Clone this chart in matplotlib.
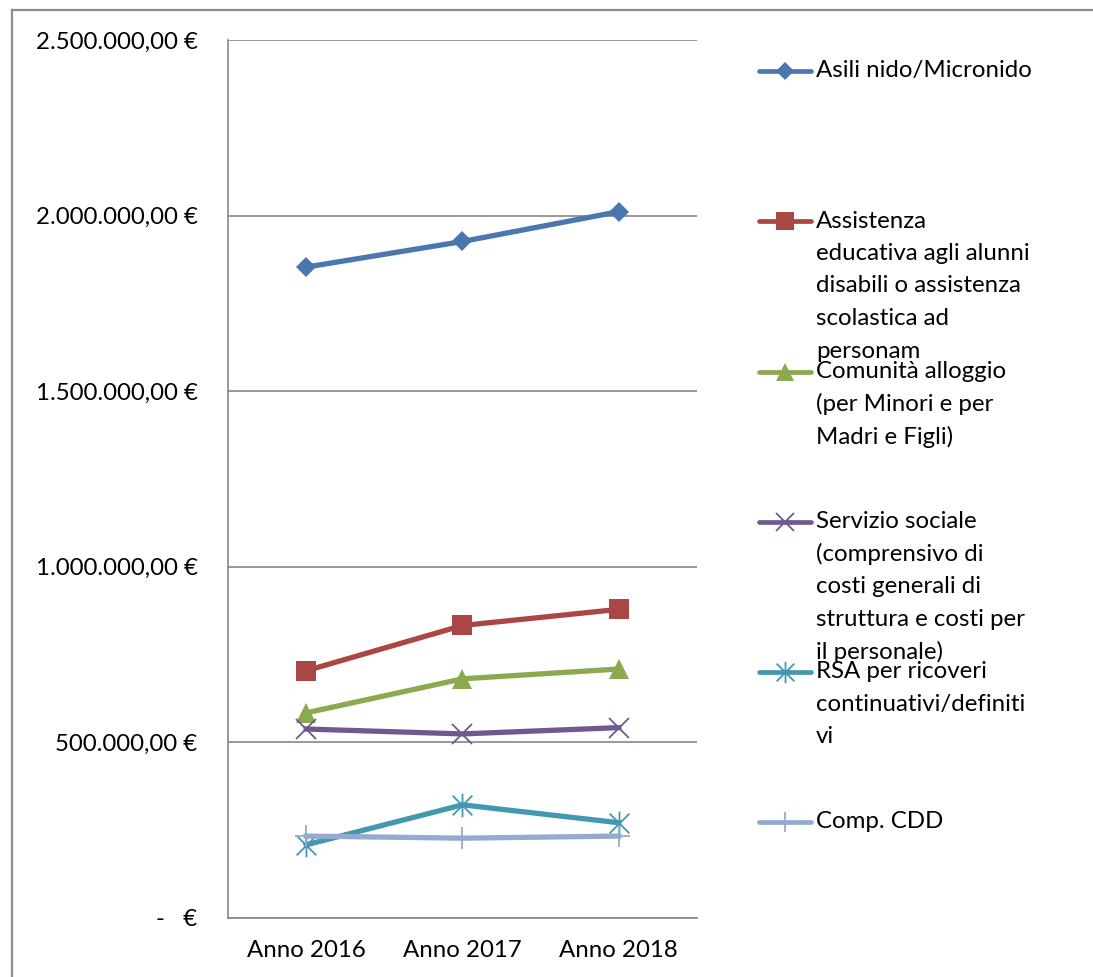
import matplotlib
matplotlib.use("Agg")
import matplotlib.pyplot as plt
from matplotlib.lines import Line2D
from matplotlib.path import Path
from matplotlib.ticker import FuncFormatter, MultipleLocator

plt.rcParams['font.family'] = ['Lato', 'DejaVu Sans']

# --- data -------------------------------------------------------------
years = ["Anno 2016", "Anno 2017", "Anno 2018"]

asili_nido = [1853000, 1926000, 2011000]
assistenza_educativa = [703000, 832000, 878000]
comunita_alloggio = [583000, 680000, 708000]
servizio_sociale = [537000, 523000, 541000]
rsa_ricoveri = [207000, 321000, 270000]
comp_cdd = [232000, 226000, 232000]

series_labels = [
    ["Asili nido/Micronido"],
    ["Assistenza", "educativa agli alunni", "disabili o assistenza",
     "scolastica ad", "personam"],
    ["Comunità alloggio", "(per Minori e per", "Madri e Figli)"],
    ["Servizio sociale", "(comprensivo di", "costi generali di",
     "struttura e costi per", "il personale)"],
    ["RSA per ricoveri", "continuativi/definiti", "vi"],
    ["Comp. CDD"],
]

# --- style ------------------------------------------------------------
# Excel-like asterisk: an "x" with a vertical stroke through it
asterisk = Path(
    [(-0.5, -0.5), (0.5, 0.5), (-0.5, 0.5), (0.5, -0.5), (0, -0.6), (0, 0.6)],
    [Path.MOVETO, Path.LINETO, Path.MOVETO, Path.LINETO, Path.MOVETO, Path.LINETO],
)

styles = [
    dict(color="#4A77AE", marker="D", ms=10.5, mew=0),
    dict(color="#AA4643", marker="s", ms=14, mew=0),
    dict(color="#8BA94F", marker="^", ms=14, mew=0),
    dict(color="#71588F", marker="x", ms=14, mew=1.3),
    dict(color="#4198AF", marker=asterisk, ms=17, mew=1.3),
    dict(color="#94AACF", marker="+", ms=16, mew=1.3),
]

FONT_SIZE = 17.3

W, H = 1093, 977
fig = plt.figure(figsize=(W / 100, H / 100), dpi=100)


def fx(px):
    return px / W


def fy(py):
    return 1 - py / H


# outer chart border (top and left edges fall inside the canvas)
border = dict(transform=fig.transFigure, color="#8C8C8C", linewidth=1.6)
fig.add_artist(Line2D([fx(12), 1.0], [fy(10), fy(10)], **border))
fig.add_artist(Line2D([fx(12), fx(12)], [fy(10), 0.0], **border))

ax = fig.add_axes([fx(228), fy(917.5), fx(697) - fx(228), fy(40) - fy(917.5)])

all_series = [asili_nido, assistenza_educativa, comunita_alloggio,
              servizio_sociale, rsa_ricoveri, comp_cdd]
x = list(range(len(years)))
for values, st in zip(all_series, styles):
    ax.plot(x, values, color=st["color"], linewidth=3.8, marker=st["marker"],
            markersize=st["ms"], markeredgewidth=st["mew"],
            markeredgecolor=st["color"], markerfacecolor=st["color"],
            solid_joinstyle="round", zorder=3)

ax.set_xlim(-0.5, 2.5)
ax.set_ylim(0, 2500000)
ax.yaxis.set_major_locator(MultipleLocator(500000))


def euro(v, _pos):
    if v == 0:
        return "-   €"
    s = f"{int(round(v)):,}".replace(",", ".")
    return f"{s},00 €"


ax.yaxis.set_major_formatter(FuncFormatter(euro))
ax.set_xticks(x)
ax.set_xticklabels(years)
ax.tick_params(axis="both", length=0, labelsize=FONT_SIZE, colors="black")
ax.tick_params(axis="y", pad=22)
ax.tick_params(axis="x", pad=16)

ax.grid(axis="y", color="#868686", linewidth=1.2, zorder=0)
ax.set_axisbelow(True)
for side in ("top", "right"):
    ax.spines[side].set_visible(False)
for side in ("left", "bottom"):
    ax.spines[side].set_color("#868686")
    ax.spines[side].set_linewidth(1.2)

# --- legend -----------------------------------------------------------
entry_y = [71, 221, 371.5, 521.5, 671.5, 821.5]
line_step = 32.5
for lines, st, ey in zip(series_labels, styles, entry_y):
    fig.add_artist(Line2D([fx(759), fx(811)], [fy(ey), fy(ey)],
                          transform=fig.transFigure, color=st["color"],
                          linewidth=3.4, solid_capstyle="round"))
    fig.add_artist(Line2D([fx(785)], [fy(ey)], transform=fig.transFigure,
                          marker=st["marker"], markersize=st["ms"] * 0.9,
                          markeredgewidth=st["mew"], color=st["color"],
                          markerfacecolor=st["color"], linestyle="none"))
    for i, txt in enumerate(lines):
        fig.text(fx(816), fy(ey + i * line_step), txt, fontsize=FONT_SIZE,
                 ha="left", va="center", color="black")

fig.savefig("out.png", dpi=100)
